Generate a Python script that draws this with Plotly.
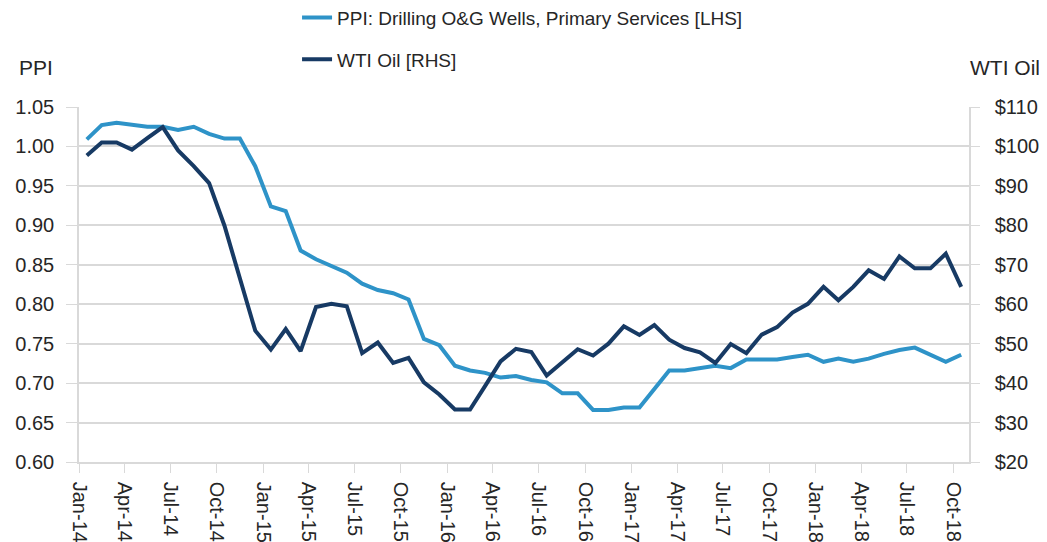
import pandas as pd
import plotly.graph_objects as go

# Monthly observations, Jan-2014 .. Oct-2018
months = pd.date_range("2014-01-01", "2018-10-01", freq="MS")

ppi = [1.009, 1.027, 1.030, 1.028, 1.025, 1.025, 1.021, 1.025, 1.016, 1.010,
       1.010, 0.975, 0.924, 0.918, 0.868, 0.857, 0.849, 0.840, 0.826, 0.818,
       0.814, 0.806, 0.756, 0.748, 0.722, 0.716, 0.713, 0.707, 0.709, 0.704,
       0.701, 0.687, 0.687, 0.666, 0.666, 0.669, 0.669, 0.692, 0.716, 0.716,
       0.719, 0.722, 0.719, 0.730, 0.730, 0.730, 0.733, 0.736, 0.727, 0.731,
       0.727, 0.731, 0.737, 0.742, 0.745, 0.736, 0.727, 0.736]

wti = [97.7, 101.0, 101.0, 99.2, 102.1, 104.9, 99.0, 95.0, 90.7, 79.9,
       66.6, 53.3, 48.5, 53.7, 48.1, 59.3, 60.1, 59.5, 47.6, 50.3,
       45.1, 46.4, 40.2, 37.1, 33.3, 33.3, 39.3, 45.5, 48.7, 47.9,
       41.9, 45.4, 48.6, 47.0, 50.0, 54.4, 52.2, 54.7, 51.0, 48.9,
       47.8, 45.1, 49.9, 47.6, 52.3, 54.2, 57.9, 60.1, 64.4, 61.0,
       64.4, 68.6, 66.4, 72.1, 69.1, 69.1, 72.8, 64.4]

ppi_name = "PPI: Drilling O&G Wells, Primary Services [LHS]"
wti_name = "WTI Oil [RHS]"

FONT = "Liberation Sans, Arial, sans-serif"
TXT = "#262626"
GRID = "#d9d9d9"

fig = go.Figure()
fig.add_trace(go.Scatter(
    x=months, y=ppi, name=ppi_name, mode="lines",
    xperiod="M1", xperiodalignment="middle",
    line=dict(color="#2E93C8", width=4), legendgroup="a"))
fig.add_trace(go.Scatter(
    x=months, y=wti, name=wti_name, mode="lines", yaxis="y2",
    xperiod="M1", xperiodalignment="middle",
    line=dict(color="#173A64", width=4), legendgroup="b"))

# The page body adds an 8px margin, so the figure is sized to fit the window.
fig.update_layout(
    width=1039, height=534,
    margin=dict(l=71, r=78, t=99, b=80, autoexpand=False),
    paper_bgcolor="white", plot_bgcolor="white",
    font=dict(family=FONT, size=20, color=TXT),
    showlegend=True,
    legend=dict(x=0.245, xanchor="left", y=1.305, yanchor="top",
                font=dict(size=19, color=TXT), tracegroupgap=14,
                bgcolor="rgba(0,0,0,0)"),
    xaxis=dict(
        type="date", range=["2014-01-01", "2018-11-01"],
        tick0="2014-01-01", dtick="M3", tickformat="%b-%y",
        tickangle=90, ticks="outside", ticklen=9, tickcolor=GRID,
        showline=True, linecolor=GRID, linewidth=1.5, showgrid=False,
        tickfont=dict(size=20, color=TXT), ticklabelstandoff=5,
        automargin=False),
    yaxis=dict(
        range=[0.6, 1.05], dtick=0.05, tickformat=".2f",
        ticks="outside", ticklen=11, tickcolor=GRID,
        showline=True, linecolor=GRID, linewidth=1.5,
        showgrid=True, gridcolor=GRID, gridwidth=1.5, zeroline=False,
        tickfont=dict(size=20, color=TXT), ticklabelstandoff=8,
        automargin=False),
    yaxis2=dict(
        range=[20, 110], dtick=10, tickprefix="$", overlaying="y", side="right",
        ticks="outside", ticklen=9, tickcolor=GRID,
        showline=True, linecolor=GRID, linewidth=1.5,
        showgrid=False, zeroline=False,
        tickfont=dict(size=20, color=TXT), ticklabelstandoff=11,
        automargin=False),
    annotations=[
        dict(text="PPI", xref="paper", yref="paper", x=-0.07, y=1.111,
             xanchor="left", yanchor="middle", showarrow=False,
             font=dict(size=21, color=TXT)),
        dict(text="WTI Oil", xref="paper", yref="paper", x=0.999, y=1.111,
             xanchor="left", yanchor="middle", showarrow=False,
             font=dict(size=21, color=TXT)),
    ],
)

fig.write_html("out.html")
